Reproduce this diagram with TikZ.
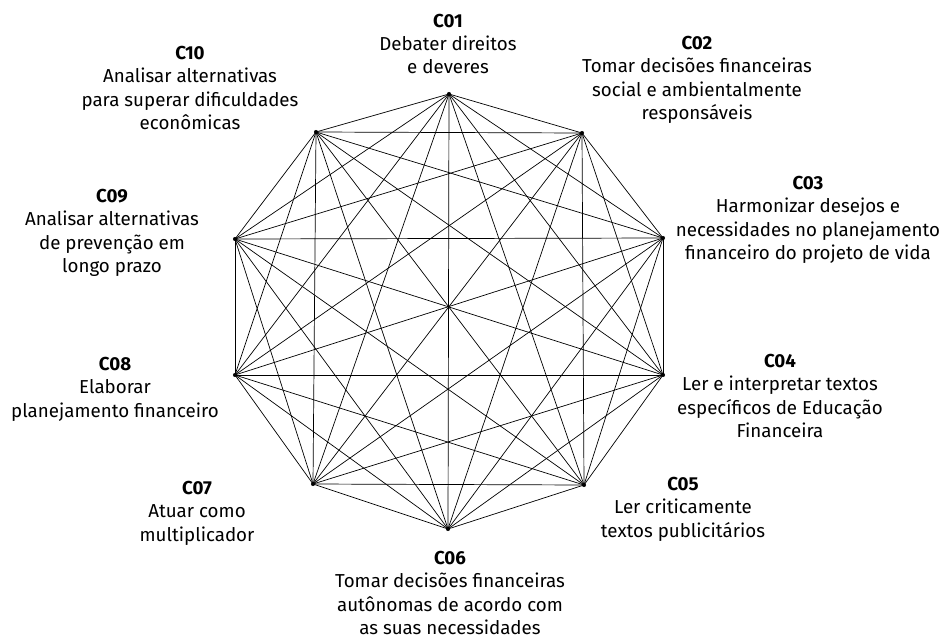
\documentclass[tikz,border=0pt]{standalone}
\usepackage{fontspec}
\setmainfont{Fira Sans}
\usetikzlibrary{positioning}

\begin{document}
\begin{tikzpicture}[x=0.03cm, y=-0.03cm, line width=0.6pt]
    % Styles
    \tikzstyle{vertex}=[circle, fill=black, inner sep=0pt, minimum size=3.5pt]
    \tikzstyle{competencia}=[align=center, inner sep=0pt, font=\fontsize{16}{20}\selectfont]

    \useasboundingbox (0,0) rectangle (944,638);

    % Vertices of the decagon
    \node (v1) [vertex] at (449,94) {};
    \node (v2) [vertex] at (582,133) {};
    \node (v3) [vertex] at (663,238) {};
    \node (v4) [vertex] at (663,375) {};
    \node (v5) [vertex] at (584,485) {};
    \node (v6) [vertex] at (448,529) {};
    \node (v7) [vertex] at (313,484) {};
    \node (v8) [vertex] at (235,375) {};
    \node (v9) [vertex] at (235,239) {};
    \node (v10) [vertex] at (316,132) {};

    % Every vertex linked to every other one
    \foreach \i in {1,...,9} {
        \pgfmathtruncatemacro{\k}{\i+1}
        \foreach \j in {\k,...,10}
            \draw (v\i.center) -- (v\j.center);
    }

    % Labels
    \node (c01) [competencia] at (448,44) {\textbf{C01}\\Debater direitos\\e deveres};
    \node (c02) [competencia] at (697,80) {\textbf{C02}\\Tomar decisões financeiras\\social e ambientalmente\\responsáveis};
    \node (c03) [competencia] at (808,220) {\textbf{C03}\\Harmonizar desejos e\\necessidades no planejamento\\financeiro do projeto de vida};
    \node (c04) [competencia] at (780,396) {\textbf{C04}\\Ler e interpretar textos\\específicos de Educação\\Financeira};
    \node (c05) [competencia] at (683,509) {\textbf{C05}\\Ler criticamente\\textos publicitários};
    \node (c06) [competencia] at (450,593) {\textbf{C06}\\Tomar decisões financeiras\\autônomas de acordo com\\as suas necessidades};
    \node (c07) [competencia] at (197,513) {\textbf{C07}\\Atuar como\\multiplicador};
    \node (c08) [competencia] at (115,389) {\textbf{C08}\\Elaborar\\planejamento financeiro};
    \node (c09) [competencia] at (112,233) {\textbf{C09}\\Analisar alternativas\\de prevenção em\\longo prazo};
    \node (c10) [competencia] at (190,88) {\textbf{C10}\\Analisar alternativas\\para superar dificuldades\\econômicas};

\end{tikzpicture}
\end{document}
